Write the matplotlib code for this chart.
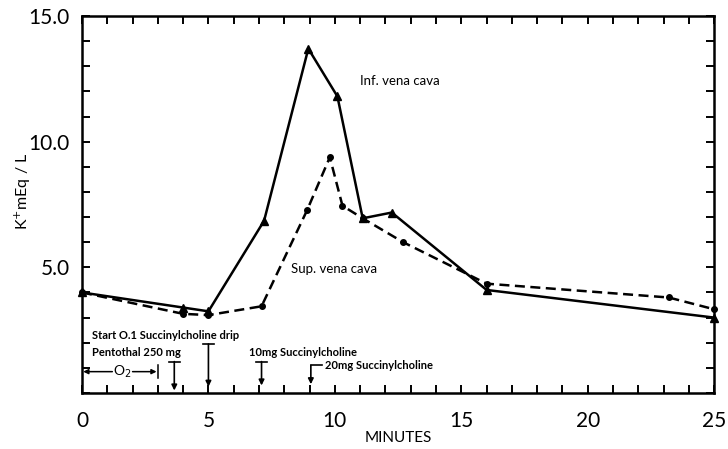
import matplotlib.pyplot as plt
import numpy as np
from matplotlib.ticker import MultipleLocator

# Inf. vena cava (solid, triangles)
inf_min = [0, 4, 5, 7.2, 8.95, 10.1, 11.1, 12.25, 16.0, 25]
inf_k = [4.0, 3.4, 3.25, 6.85, 13.7, 11.8, 6.95, 7.18, 4.1, 3.0]

# Sup. vena cava (dashed, dots)
sup_min = [0, 4, 5, 7.1, 8.9, 9.8, 10.3, 11.1, 12.7, 16.0, 23.2, 25]
sup_k = [4.0, 3.15, 3.1, 3.45, 7.27, 9.38, 7.45, 6.95, 6.0, 4.35, 3.8, 3.33]

plt.rcParams['font.family'] = ['Lato', 'DejaVu Sans']

fig = plt.figure(figsize=(7.28, 4.49), dpi=100)
ax = fig.add_axes([0.1126, 0.1247, 0.8685, 0.8397])

ax.plot(inf_min, inf_k, color='black', lw=1.8, marker='^', ms=6, clip_on=False)
ax.plot(sup_min, sup_k, color='black', lw=1.8, ls=(0, (4, 2.2)), marker='o', ms=4,
        clip_on=False)

ax.text(11.0, 12.4, 'Inf. vena cava', fontsize=9.5, va='center')
ax.text(8.25, 4.95, 'Sup. vena cava', fontsize=9.5, va='center')

ax.set_xlim(0, 25)
ax.set_ylim(0, 15)
ax.set_xticks([0, 5, 10, 15, 20, 25])
ax.set_yticks([5, 10, 15])
ax.set_yticklabels(['5.0', '10.0', '15.0'])
ax.xaxis.set_minor_locator(MultipleLocator(1))
ax.yaxis.set_minor_locator(MultipleLocator(1))
ax.tick_params(which='both', direction='in', top=True, right=True, width=1.4,
               length=6, labelsize=15)
ax.tick_params(axis='x', pad=13)
ax.tick_params(axis='y', pad=9)
for s in ax.spines.values():
    s.set_linewidth(1.8)

ax.set_xlabel('MINUTES', fontsize=11)
ax.xaxis.set_label_coords(0.5, -0.102)
ax.set_ylabel('K$^{+}$mEq / L', fontsize=11.5)
ax.yaxis.set_label_coords(-0.078, 0.535)

# event annotations along the bottom
fs = 8
ax.text(0.4, 2.3, 'Start O.1 Succinylcholine drip', fontsize=fs, fontweight='bold', va='center')
ax.text(0.4, 1.6, 'Pentothal 250 mg', fontsize=fs, fontweight='bold', va='center')
ax.text(6.6, 1.6, '10mg Succinylcholine', fontsize=fs, fontweight='bold', va='center')
ax.text(9.6, 1.1, '20mg Succinylcholine', fontsize=fs, fontweight='bold', va='center')

def drop(x, ytop, ybot, bar=0.22):
    ax.annotate('', xy=(x, ybot), xytext=(x, ytop),
                arrowprops=dict(arrowstyle='-|>', color='black', lw=1.2,
                                mutation_scale=8, shrinkA=0, shrinkB=0))
    ax.plot([x - bar, x + bar], [ytop, ytop], color='black', lw=1.2)

drop(5.0, 1.95, 0.25)
drop(3.65, 1.25, 0.1)
drop(7.1, 1.25, 0.3)

# 20 mg elbow arrow
ax.plot([9.05, 9.5], [1.1, 1.1], color='black', lw=1.2)
ax.annotate('', xy=(9.05, 0.35), xytext=(9.05, 1.1),
            arrowprops=dict(arrowstyle='-|>', color='black', lw=1.2,
                            mutation_scale=8, shrinkA=0, shrinkB=0))

# O2 period
ax.annotate('', xy=(0.05, 0.85), xytext=(1.2, 0.85),
            arrowprops=dict(arrowstyle='-|>', color='black', lw=1.1,
                            mutation_scale=7, shrinkA=0, shrinkB=0))
ax.annotate('', xy=(2.95, 0.85), xytext=(2.0, 0.85),
            arrowprops=dict(arrowstyle='-|>', color='black', lw=1.1,
                            mutation_scale=7, shrinkA=0, shrinkB=0))
ax.plot([3.0, 3.0], [0.6, 1.1], color='black', lw=1.1)
ax.text(1.6, 0.85, 'O$_2$', fontsize=10, ha='center', va='center')

fig.savefig('out.png', dpi=100)
